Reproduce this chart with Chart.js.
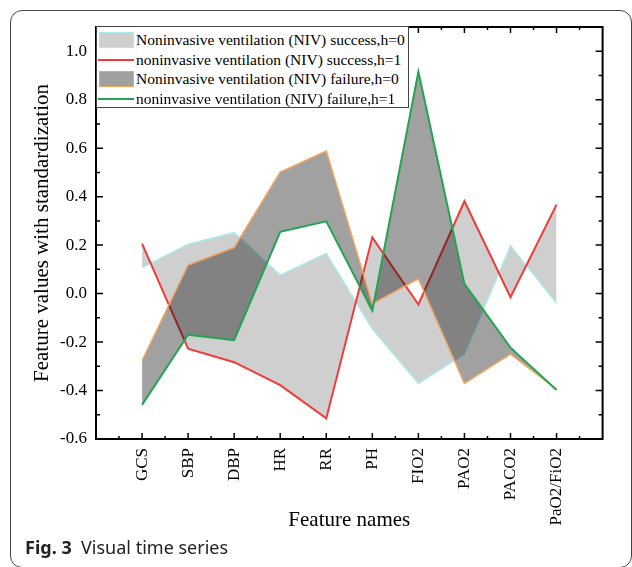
<!DOCTYPE html>
<html>
<head>
<meta charset="utf-8">
<script src="https://cdn.jsdelivr.net/npm/chart.js@4.4.1/dist/chart.umd.min.js"></script>
<style>
    body { margin: 0; background: #fff; }
    #quadro { position: relative; width: 632px; height: 567px; overflow: hidden; }
    #moldura { position: absolute; left: 10px; top: 10px; width: 620px; height: 556px; border: 1px solid #444; border-radius: 12px; }
    #grafico { position: absolute; left: 0; top: 0; }
    #legenda { position: absolute; left: 96px; top: 26px; width: 311px; height: 80px; border: 1px solid #444; background: #fff;
        font-family: "Liberation Serif", "Times New Roman", serif; font-size: 15.5px; color: #000; }
    .item { position: absolute; left: 0; height: 20px; width: 311px; }
    .item span { position: absolute; left: 39px; top: 0; line-height: 20px; white-space: nowrap; }
    .caixa { position: absolute; left: 2px; top: 2px; width: 33px; height: 14px; }
    .linha { position: absolute; left: 1px; top: 9px; width: 36px; height: 2px; }
    #legenda_fig { position: absolute; left: 25px; top: 535px; font-family: "Noto Sans", sans-serif; font-size: 18px; color: #222; white-space: nowrap; }
</style>
</head>
<body>
<div id="quadro">
    <div id="moldura"></div>
    <canvas id="grafico" width="632" height="567"></canvas>
    <div id="legenda"></div>
    <div id="legenda_fig"><b>Fig. 3</b>&nbsp; Visual time series</div>
</div>

<script>
const caracteristicas = ['GCS', 'SBP', 'DBP', 'HR', 'RR', 'PH', 'FIO2', 'PAO2', 'PACO2', 'PaO2/FiO2']

const sucessoH0 = [0.107, 0.204, 0.252, 0.076, 0.166, -0.146, -0.371, -0.249, 0.197, -0.039]
const sucessoH1 = [0.206, -0.227, -0.283, -0.378, -0.515, 0.232, -0.045, 0.381, -0.015, 0.367]
const falhaH0 = [-0.277, 0.118, 0.190, 0.501, 0.588, -0.043, 0.061, -0.371, -0.250, -0.394]
const falhaH1 = [-0.459, -0.170, -0.192, 0.255, 0.298, -0.071, 0.915, 0.040, -0.223, -0.398]

const nomes = [
    'Noninvasive ventilation (NIV) success,h=0',
    'noninvasive ventilation (NIV) success,h=1',
    'Noninvasive ventilation (NIV) failure,h=0',
    'noninvasive ventilation (NIV) failure,h=1'
]

const fonteSerif = '"Liberation Serif", "Times New Roman", serif'

function pontos(lista) {
    return lista.map((v, i) => ({ x: i, y: v }))
}

// moldura dos eixos com ticks para dentro
const eixos = {
    id: 'eixos',
    afterDraw(chart) {
        const { ctx, chartArea: a, scales: { x, y } } = chart
        ctx.save()
        ctx.strokeStyle = '#000'
        ctx.lineWidth = 1.5
        ctx.beginPath()
        for (let v = -6; v <= 10; v++) {
            const py = y.getPixelForValue(v / 10)
            const tam = v % 2 === 0 ? 7 : 4
            ctx.moveTo(a.left, py)
            ctx.lineTo(a.left + tam, py)
            ctx.moveTo(a.right, py)
            ctx.lineTo(a.right - tam, py)
        }
        for (let i = -1; i <= 19; i++) {
            const px = x.getPixelForValue(i / 2)
            const tam = i % 2 === 0 ? 6 : 3
            ctx.moveTo(px, a.bottom)
            ctx.lineTo(px, a.bottom - tam)
            ctx.moveTo(px, a.top)
            ctx.lineTo(px, a.top + tam)
        }
        ctx.stroke()
        ctx.lineWidth = 2
        ctx.strokeRect(a.left, a.top, a.right - a.left, a.bottom - a.top)
        ctx.restore()
    }
}

Chart.defaults.color = '#000'
Chart.defaults.font.family = fonteSerif

const ctx = document.getElementById('grafico').getContext('2d')

// ordem invertida: o dataset 0 fica por cima
const grafico = new Chart(ctx, {
    type: 'line',
    data: {
        datasets: [{
            label: nomes[3],
            data: pontos(falhaH1),
            borderColor: '#22a452',
            borderWidth: 2,
            fill: false
        }, {
            label: nomes[2],
            data: pontos(falhaH0),
            borderColor: '#f3a45c',
            borderWidth: 1.5,
            backgroundColor: 'rgba(0,0,0,0.37)',
            fill: { target: 0 }
        }, {
            label: nomes[1],
            data: pontos(sucessoH1),
            borderColor: '#f23a3a',
            borderWidth: 2,
            fill: false
        }, {
            label: nomes[0],
            data: pontos(sucessoH0),
            borderColor: '#a8ecec',
            borderWidth: 1.5,
            backgroundColor: '#cfcfcf',
            fill: { target: 2 }
        }]
    },
    options: {
        responsive: false,
        animation: false,
        layout: { padding: { left: 0, top: 27, right: 23, bottom: 34 } },
        elements: { point: { radius: 0 }, line: { tension: 0 } },
        plugins: { legend: { display: false }, tooltip: { enabled: false } },
        scales: {
            x: {
                type: 'linear',
                min: -1,
                max: 10,
                grid: { display: false, drawTicks: false },
                border: { display: false },
                afterFit: (s) => { s.height = 94 },
                ticks: {
                    stepSize: 1,
                    autoSkip: false,
                    minRotation: 90,
                    maxRotation: 90,
                    padding: 9,
                    font: { family: fonteSerif, size: 17 },
                    callback: (v) => caracteristicas[v] ?? ''
                },
                title: { display: true, text: 'Feature names', font: { family: fonteSerif, size: 21 }, padding: 0 }
            },
            y: {
                min: -0.6,
                max: 1.1,
                grid: { display: false, drawTicks: false },
                border: { display: false },
                afterFit: (s) => { s.width = 96 },
                ticks: {
                    stepSize: 0.2,
                    autoSkip: false,
                    padding: 9,
                    font: { family: fonteSerif, size: 17 },
                    callback: (v) => v > 1.05 ? '' : v.toFixed(1)
                },
                title: { display: true, text: 'Feature values with standardization', font: { family: fonteSerif, size: 21 }, padding: { top: 30, bottom: 0 } }
            }
        }
    },
    plugins: [eixos]
})

// legenda dentro da area do grafico
const estilos = [
    { tipo: 'caixa', fundo: '#cfcfcf', borda: '#a8ecec' },
    { tipo: 'linha', cor: '#f23a3a' },
    { tipo: 'caixa', fundo: '#a0a0a0', borda: '#f3a45c' },
    { tipo: 'linha', cor: '#22a452' }
]
const legenda = document.getElementById('legenda')
nomes.forEach((nome, i) => {
    const item = document.createElement('div')
    item.className = 'item'
    item.style.top = (3 + i * 19.5) + 'px'
    const e = estilos[i]
    const marca = document.createElement('div')
    marca.className = e.tipo
    if (e.tipo === 'caixa') {
        marca.style.background = e.fundo
        marca.style.border = '1.5px solid ' + e.borda
    } else {
        marca.style.background = e.cor
    }
    const texto = document.createElement('span')
    texto.textContent = nome
    item.appendChild(marca)
    item.appendChild(texto)
    legenda.appendChild(item)
})
</script>
</body>
</html>
